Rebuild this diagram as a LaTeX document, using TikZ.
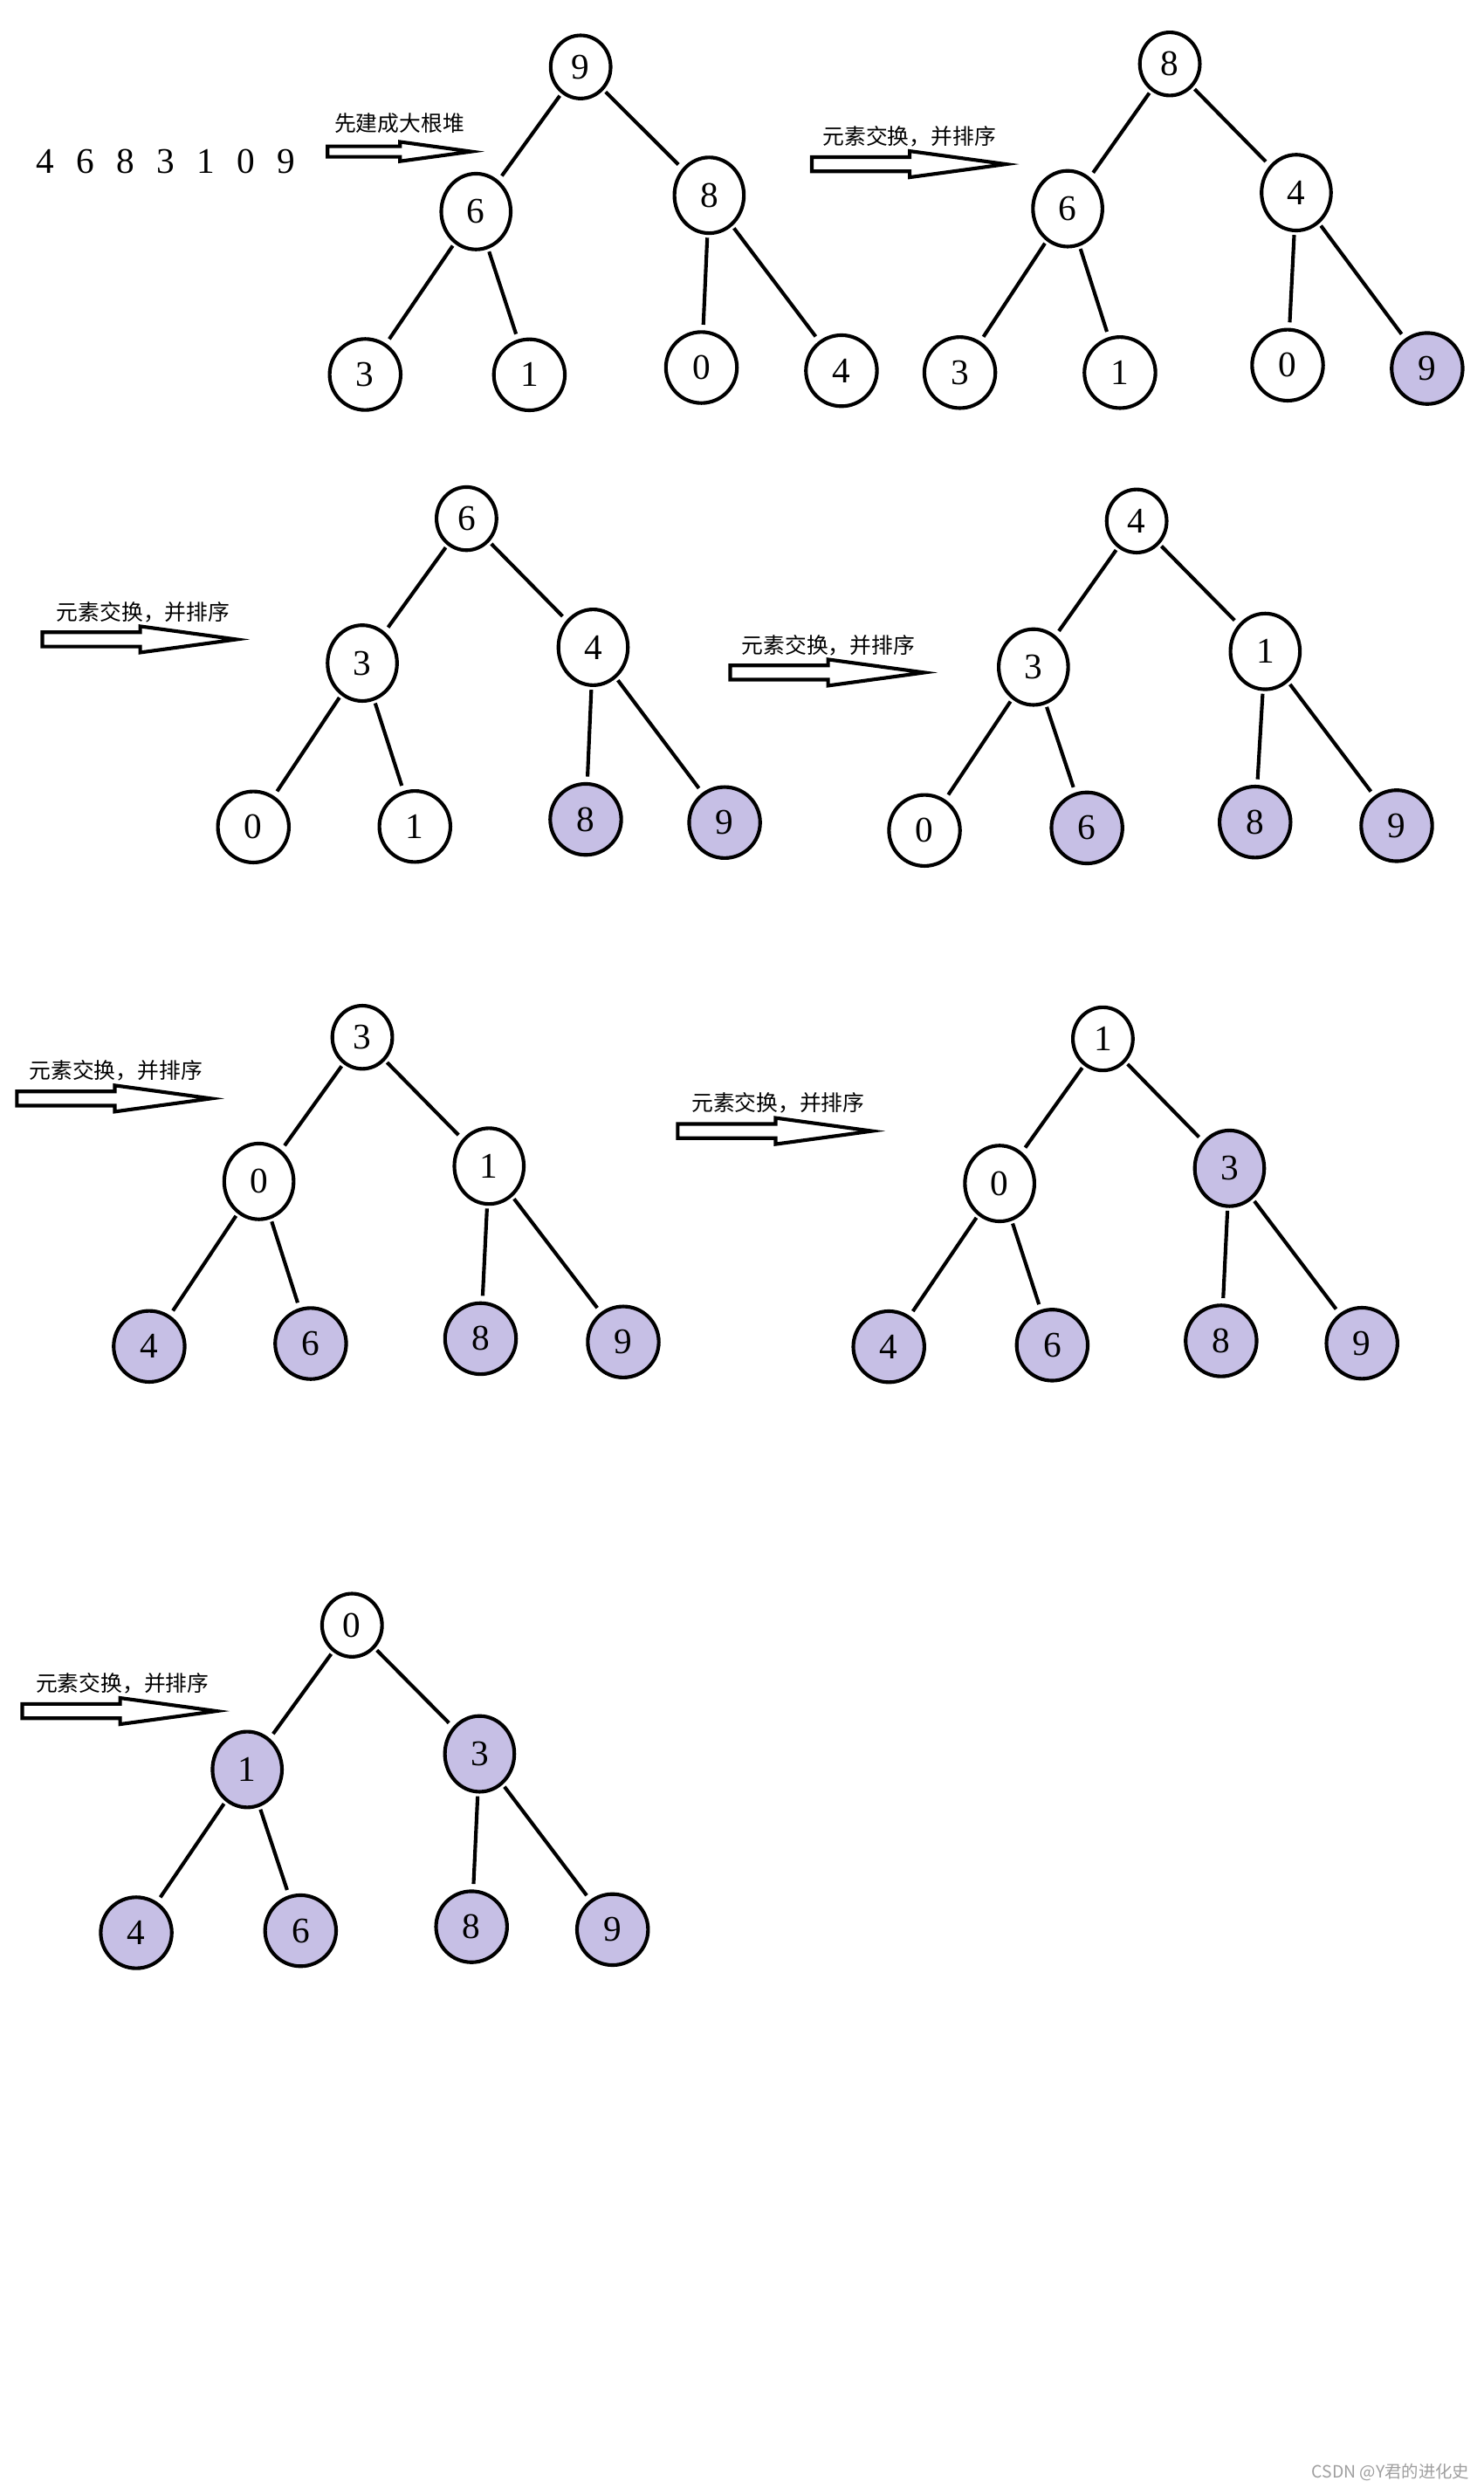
\documentclass[tikz,border=0pt]{standalone}
\usepackage{fontspec}
\setmainfont{Liberation Serif}
\newfontfamily\cjk{Noto Sans CJK SC}
\usetikzlibrary{shapes.geometric}
\definecolor{sorted}{HTML}{C6BFE5}

\begin{document}
\begin{tikzpicture}[x=0.02cm, y=-0.02cm,
	heapnode/.style={ellipse, draw, line width=1.3pt, inner sep=0pt, font=\fontsize{13}{15}\selectfont},
	toplevel/.style={minimum width=0.76cm, minimum height=0.8cm},
	midlevel/.style={minimum width=0.88cm, minimum height=0.96cm},
	leaflevel/.style={minimum width=0.9cm, minimum height=0.9cm},
	sortedfill/.style={fill=sorted},
	branch/.style={line width=1.3pt, shorten <=1pt, shorten >=2pt},
	fatarrow/.style={line width=1.3pt, line join=miter},
	steplabel/.style={font=\cjk\fontsize{7.8}{9}\selectfont, inner sep=0pt}]
	\fill[white] (0,0) rectangle (940,1575.9);
	\useasboundingbox (0,0) rectangle (940,1575.9);
	
	%input
	\node[font=\fontsize{13}{15}\selectfont] (input) at (105,102.5) {\spaceskip=8pt\relax 4 6 8 3 1 0 9};
	
	%step arrows
	\foreach \ax/\ay/\as in {207.5/96/0.74, 514.2/104/1, 26.8/405/1, 462.5/426/1, 10.7/695.8/1, 429.3/716.4/1, 14.1/1083.8/1}
	\draw[fatarrow] (\ax,\ay) ++(0,-4.5*\as) -- ++(62*\as,0) -- ++(0,-3.8*\as) -- ++(61*\as,8.3*\as)
		-- ++(-61*\as,8.3*\as) -- ++(0,-3.8*\as) -- ++(-62*\as,0) -- cycle;
	\node[steplabel] (build) at (253,78) {先建成大根堆};
	\node[steplabel] (swapb) at (576,86.5) {元素交换，并排序};
	\node[steplabel] (swapc) at (90.7,388) {元素交换，并排序};
	\node[steplabel] (swapd) at (524.7,408.6) {元素交换，并排序};
	\node[steplabel] (swape) at (73.4,678.3) {元素交换，并排序};
	\node[steplabel] (swapf) at (492.9,698.6) {元素交换，并排序};
	\node[steplabel] (swapg) at (77.6,1066.3) {元素交换，并排序};
	
	%max heap
	\node[heapnode, toplevel] (a0) at (367.8,42.4) {9};
	\node[heapnode, midlevel] (a1) at (301.5,134) {6};
	\node[heapnode, midlevel] (a2) at (449.2,123.7) {8};
	\node[heapnode, leaflevel] (a3) at (231.3,237.2) {3};
	\node[heapnode, leaflevel] (a4) at (335.3,237.4) {1};
	\node[heapnode, leaflevel] (a5) at (444.3,232.8) {0};
	\node[heapnode, leaflevel] (a6) at (533,234.8) {4};
	
	%swap 1
	\node[heapnode, toplevel] (b0) at (741,40.5) {8};
	\node[heapnode, midlevel] (b1) at (676.3,132.2) {6};
	\node[heapnode, midlevel] (b2) at (821.1,122) {4};
	\node[heapnode, leaflevel] (b3) at (608,236) {3};
	\node[heapnode, leaflevel] (b4) at (709.4,236) {1};
	\node[heapnode, leaflevel] (b5) at (815.6,231.3) {0};
	\node[heapnode, leaflevel, sortedfill] (b6) at (904,233.4) {9};
	
	%swap 2
	\node[heapnode, toplevel] (c0) at (295.5,328.5) {6};
	\node[heapnode, midlevel] (c1) at (229.5,420) {3};
	\node[heapnode, midlevel] (c2) at (375.7,410) {4};
	\node[heapnode, leaflevel] (c3) at (160.5,523.8) {0};
	\node[heapnode, leaflevel] (c4) at (262.8,523.5) {1};
	\node[heapnode, leaflevel, sortedfill] (c5) at (371,519) {8};
	\node[heapnode, leaflevel, sortedfill] (c6) at (459,521) {9};
	
	%swap 3
	\node[heapnode, toplevel] (d0) at (720,330) {4};
	\node[heapnode, midlevel] (d1) at (654.6,422.5) {3};
	\node[heapnode, midlevel] (d2) at (801.4,412.6) {1};
	\node[heapnode, leaflevel] (d3) at (585.6,526) {0};
	\node[heapnode, leaflevel, sortedfill] (d4) at (688.5,524.4) {6};
	\node[heapnode, leaflevel, sortedfill] (d5) at (795,520.7) {8};
	\node[heapnode, leaflevel, sortedfill] (d6) at (884.7,523) {9};
	
	%swap 4
	\node[heapnode, toplevel] (e0) at (229.5,657) {3};
	\node[heapnode, midlevel] (e1) at (164,748.3) {0};
	\node[heapnode, midlevel] (e2) at (309.8,738.6) {1};
	\node[heapnode, leaflevel, sortedfill] (e3) at (94.5,852.8) {4};
	\node[heapnode, leaflevel, sortedfill] (e4) at (196.8,851) {6};
	\node[heapnode, leaflevel, sortedfill] (e5) at (304.4,847.9) {8};
	\node[heapnode, leaflevel, sortedfill] (e6) at (394.8,850) {9};
	
	%swap 5
	\node[heapnode, toplevel] (f0) at (698.6,658) {1};
	\node[heapnode, midlevel] (f1) at (633.2,749.6) {0};
	\node[heapnode, midlevel, sortedfill] (f2) at (778.8,740) {3};
	\node[heapnode, leaflevel, sortedfill] (f3) at (563,853) {4};
	\node[heapnode, leaflevel, sortedfill] (f4) at (666.5,852) {6};
	\node[heapnode, leaflevel, sortedfill] (f5) at (773.5,849.3) {8};
	\node[heapnode, leaflevel, sortedfill] (f6) at (862.7,850.8) {9};
	
	%swap 6
	\node[heapnode, toplevel] (g0) at (223,1029.4) {0};
	\node[heapnode, midlevel, sortedfill] (g1) at (156.6,1120.8) {1};
	\node[heapnode, midlevel, sortedfill] (g2) at (303.8,1110.9) {3};
	\node[heapnode, leaflevel, sortedfill] (g3) at (86.3,1224.2) {4};
	\node[heapnode, leaflevel, sortedfill] (g4) at (190.4,1222.9) {6};
	\node[heapnode, leaflevel, sortedfill] (g5) at (298.7,1220.4) {8};
	\node[heapnode, leaflevel, sortedfill] (g6) at (388,1222.2) {9};
	
	%tree edges
	\foreach \t in {a,b,c,d,e,f,g}
	\foreach \p/\c in {0/1,0/2,1/3,1/4,2/5,2/6}
	\draw[branch] (\t\p) -- (\t\c);
	
	\node[font=\cjk\fontsize{6.1}{7}\selectfont, text=gray!75, inner sep=0pt] (mark) at (880.8,1566) {CSDN @Y君的进化史};
\end{tikzpicture}
\end{document}
